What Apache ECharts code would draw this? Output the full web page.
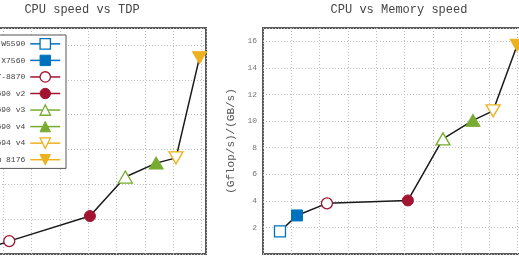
<!DOCTYPE html>
<html>
<head>
<meta charset="utf-8">
<script src="https://cdn.jsdelivr.net/npm/echarts@6/dist/echarts.min.js"></script>
<style>html,body{margin:0;padding:0;background:#fff}#c{width:519px;height:259px}</style>
</head>
<body>
<div id="c"></div>
<script>
// ---- data ----
const cpuNames = ['Xeon W5590', 'Xeon X7560', 'Xeon E7-8870', 'Xeon E5-2690 v2', 'Xeon E5-2690 v3', 'Xeon E5-2690 v4', 'Xeon E5-2694 v4', 'Platinum 8176'];
// left panel: CPU speed vs TDP (axis units)
const tdpX = [0.05, 0.5, 1.21, 4.06, 5.31, 6.40, 7.10, 7.93];
const tdpY = [0.05, 0.17, 0.37, 1.09, 2.21, 2.61, 2.76, 5.64];
// right panel: CPU vs Memory speed
const memX = [0.60, 1.20, 2.26, 5.12, 6.36, 7.42, 8.13, 8.98];
const memY = [1.70, 2.90, 3.81, 4.03, 8.66, 10.05, 10.77, 15.70];
const memYTicks = [2, 4, 6, 8, 10, 12, 14, 16];
const titles = ['CPU speed vs TDP', 'CPU vs Memory speed'];
const memYName = '(Gflop/s)/(GB/s)';

// ---- styles ----
const FONT = "'Liberation Mono', 'Courier New', monospace";
const markers = [
  {symbol: 'rect', size: 11, rot: 0, color: '#0072BD', open: true},
  {symbol: 'rect', size: 11, rot: 0, color: '#0072BD', open: false},
  {symbol: 'circle', size: 11, rot: 0, color: '#A2142F', open: true},
  {symbol: 'circle', size: 11, rot: 0, color: '#A2142F', open: false},
  {symbol: 'triangle', size: [14, 12], rot: 0, color: '#77AC30', open: true},
  {symbol: 'triangle', size: [14, 12], rot: 0, color: '#77AC30', open: false},
  {symbol: 'triangle', size: [14, 12], rot: 180, color: '#EDB120', open: true},
  {symbol: 'triangle', size: [14, 12], rot: 180, color: '#EDB120', open: false}
];
function itemStyleOf(m) {
  return m.open ? {color: '#fff', borderColor: m.color, borderWidth: 1.3}
                : {color: m.color, borderColor: m.color, borderWidth: 1};
}

const grids = [
  {left: -25, width: 231, top: 28, height: 226, show: true, borderColor: '#5a5a5a', borderWidth: 2, containLabel: false, outerBoundsMode: 'none'},
  {left: 263, width: 283, top: 28, height: 226, show: true, borderColor: '#5a5a5a', borderWidth: 2, containLabel: false, outerBoundsMode: 'none'}
];
const splitLine = {show: true, lineStyle: {type: [1, 2], color: '#bdbdbd', width: 1}};
const xAxes = [
  {type: 'value', gridIndex: 0, min: 0, max: 8.16, interval: 1, axisLine: {show: false}, axisTick: {show: false}, axisLabel: {show: false}, splitLine},
  {type: 'value', gridIndex: 1, min: 0, max: 10, interval: 1, axisLine: {show: false}, axisTick: {show: false}, axisLabel: {show: false}, splitLine}
];
const yAxes = [
  {type: 'value', gridIndex: 0, min: 0, max: 6.49, interval: 1, axisLine: {show: false}, axisTick: {show: false}, axisLabel: {show: false}, splitLine},
  {type: 'value', gridIndex: 1, min: 0, max: 17, interval: 2, axisLine: {show: false}, axisTick: {show: false},
   axisLabel: {show: true, margin: 6, color: '#777', fontSize: 8, fontFamily: FONT,
     formatter: v => memYTicks.indexOf(v) >= 0 ? String(v) : ''},
   name: memYName, nameLocation: 'middle', nameGap: 21, nameRotate: 90,
   nameTextStyle: {color: '#555', fontSize: 11, fontFamily: FONT},
   splitLine}
];

const series = [];
[[tdpX, tdpY, 0], [memX, memY, 1]].forEach(([xs, ys, gi]) => {
  series.push({
    type: 'line', name: '_conn' + gi, xAxisIndex: gi, yAxisIndex: gi, z: 1,
    data: xs.map((x, i) => [x, ys[i]]), symbol: 'none', silent: true,
    lineStyle: {color: '#1a1a1a', width: 1.5}, clip: true
  });
  cpuNames.forEach((n, i) => {
    const m = markers[i];
    series.push({
      type: 'line', name: n, xAxisIndex: gi, yAxisIndex: gi, z: 3,
      data: [[xs[i], ys[i]]], symbol: m.symbol, symbolSize: m.size, symbolRotate: m.rot,
      itemStyle: itemStyleOf(m), lineStyle: {color: m.color, width: 1.5}, clip: true
    });
  });
});

const option = {
  animation: false,
  backgroundColor: '#fff',
  title: [
    {text: titles[0], left: 77, top: -1, textAlign: 'center', textStyle: {fontFamily: FONT, fontSize: 12, fontWeight: 'normal', color: '#444'}},
    {text: titles[1], left: 394, top: -1, textAlign: 'center', textStyle: {fontFamily: FONT, fontSize: 12, fontWeight: 'normal', color: '#444'}}
  ],
  legend: {
    orient: 'vertical', align: 'right', right: 453, top: 35,
    itemWidth: 30, itemHeight: 13, itemGap: 5,
    padding: [3, 5, 3, 5],
    backgroundColor: '#fff', borderColor: '#555', borderWidth: 1,
    textStyle: {fontFamily: FONT, fontSize: 8, color: '#444'},
    selectedMode: false,
    data: cpuNames.map((n, i) => ({name: n, itemStyle: itemStyleOf(markers[i]), lineStyle: {color: markers[i].color, width: 1.5}}))
  },
  grid: grids, xAxis: xAxes, yAxis: yAxes, series
};
const chart = echarts.init(document.getElementById('c'), null, {renderer: 'canvas'});
chart.setOption(option);
</script>
</body>
</html>
